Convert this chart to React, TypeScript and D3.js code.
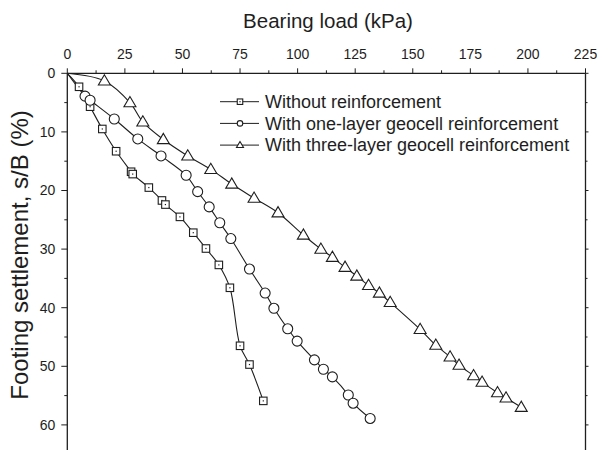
import React from 'react';
import * as d3 from 'd3';

// bearing load (kPa) vs settlement s/B (%)
const noReinfLoad = [0, 5.1, 9.9, 15.2, 21.2, 27.7, 28.4, 35.4, 41.1, 42.6, 48.9, 54.7, 60.2, 65.8, 70.6, 75.0, 79.1, 85.1];
const noReinfSettle = [0, 2.3, 5.7, 9.5, 13.3, 16.8, 17.2, 19.5, 21.7, 22.4, 24.5, 27.2, 29.9, 32.7, 36.6, 46.5, 49.7, 55.9];

const oneLayerLoad = [0, 7.7, 9.9, 20.4, 30.6, 40.7, 51.6, 56.6, 61.6, 66.2, 71.0, 79.1, 85.9, 89.7, 95.7, 99.8, 107.3, 111.2, 115.1, 122.0, 124.1, 131.5];
const oneLayerSettle = [0, 3.9, 4.6, 7.8, 11.2, 14.1, 17.4, 20.2, 22.8, 25.5, 28.2, 33.4, 37.5, 40.1, 43.6, 45.7, 48.9, 50.5, 51.8, 54.9, 56.3, 58.9];

const threeLayerLoad = [0, 16.1, 27.2, 32.8, 41.7, 52.3, 62.3, 71.4, 81.1, 91.5, 102.5, 110.1, 115.1, 120.6, 125.7, 130.8, 135.5, 140.2, 153.2, 160.0, 166.2, 170.1, 176.4, 180.1, 186.8, 190.5, 197.1];
const threeLayerSettle = [0, 1.3, 5.0, 8.3, 11.3, 14.1, 16.4, 18.9, 21.3, 23.8, 27.6, 30.0, 31.4, 33.1, 34.6, 36.2, 37.5, 39.1, 43.7, 46.4, 48.4, 49.8, 51.6, 52.7, 54.5, 55.4, 57.0];

const seriesNames = ['Without reinforcement', 'With one-layer geocell reinforcement', 'With three-layer geocell reinforcement'];
const xTicks = [0, 25, 50, 75, 100, 125, 150, 175, 200, 225];
const yTicks = [0, 10, 20, 30, 40, 50, 60];

const W = 597;
const H = 450;
const left = 67.3;
const right = 585.5;
const top = 73.3;
const ink = '#1e1e1e';
const font = 'Arial, "Liberation Sans", sans-serif';

const x = d3.scaleLinear().domain([0, 225]).range([left, right]);
const y = d3.scaleLinear().domain([0, 65]).range([top, top + 65 * 5.86]);

const line = d3.line<[number, number]>()
    .x(d => x(d[0]))
    .y(d => y(d[1]))
    .curve(d3.curveCatmullRom.alpha(0.5));

const zip = (a: number[], b: number[]): [number, number][] => a.map((v, i) => [v, b[i]]);

const Marker = ({ kind, cx, cy, s }: { kind: number; cx: number; cy: number; s: number }) => {
    if (kind === 0) {
        return (
            <g>
                <rect x={cx - s / 2} y={cy - s / 2} width={s} height={s} fill="#fff" stroke={ink} strokeWidth={1.1} />
                <rect x={cx - 0.6} y={cy - 0.6} width={1.2} height={1.2} fill={ink} />
            </g>
        );
    }
    if (kind === 1) {
        return <circle cx={cx} cy={cy} r={s / 2} fill="#fff" stroke={ink} strokeWidth={1.1} />;
    }
    const h = s * 0.85;
    const pts = [[cx, cy - h * 0.6], [cx - s / 2, cy + h * 0.4], [cx + s / 2, cy + h * 0.4]];
    return <polygon points={pts.map(p => p.join(',')).join(' ')} fill="#fff" stroke={ink} strokeWidth={1.1} />;
};

const App = () => {
    const series = [
        zip(noReinfLoad, noReinfSettle),
        zip(oneLayerLoad, oneLayerSettle),
        zip(threeLayerLoad, threeLayerSettle),
    ];
    const sizes = [7.5, 10, 12];
    const xMinor = d3.range(12.5, 225, 25);
    const yMinor = d3.range(5, 65, 10);

    return (
        <svg width={W} height={H} style={{ position: 'absolute', left: 0, top: 0 }} fontFamily={font}>
            <rect width={W} height={H} fill="#fff" />
            {/* axis frame */}
            <line x1={left} x2={right} y1={top} y2={top} stroke={ink} strokeWidth={1.3} />
            <line x1={left} x2={left} y1={top} y2={H} stroke={ink} strokeWidth={1.3} />
            <line x1={right} x2={right} y1={top} y2={H} stroke={ink} strokeWidth={1.3} />

            {/* top ticks */}
            {xTicks.map(t => (
                <g key={'xt' + t}>
                    <line x1={x(t)} x2={x(t)} y1={top} y2={top - 5} stroke={ink} />
                    <text x={x(t)} y={top - 14} textAnchor="middle" fontSize={14} fill={ink}>{t}</text>
                </g>
            ))}
            {xMinor.map(t => (
                <line key={'xm' + t} x1={x(t)} x2={x(t)} y1={top} y2={top - 3} stroke={ink} />
            ))}
            {/* left + right ticks */}
            {yTicks.map(t => (
                <g key={'yt' + t}>
                    <line x1={left} x2={left - 6} y1={y(t)} y2={y(t)} stroke={ink} />
                    <line x1={right} x2={right + 3} y1={y(t)} y2={y(t)} stroke={ink} />
                    <text x={left - 12} y={y(t)} dy="0.35em" textAnchor="end" fontSize={14} fill={ink}>{t}</text>
                </g>
            ))}
            {yMinor.map(t => (
                <g key={'ym' + t}>
                    <line x1={left} x2={left - 3} y1={y(t)} y2={y(t)} stroke={ink} />
                    <line x1={right} x2={right + 2} y1={y(t)} y2={y(t)} stroke={ink} />
                </g>
            ))}

            <text x={328} y={21} dy="0.35em" textAnchor="middle" fontSize={20.5} fill={ink}>Bearing load (kPa)</text>
            <text transform={`translate(20,255) rotate(-90)`} dy="0.35em" textAnchor="middle" fontSize={24} fill={ink}>
                Footing settlement, s/B (%)
            </text>

            {/* curves */}
            {series.map((s, i) => (
                <path key={'l' + i} d={line(s) || ''} fill="none" stroke={ink} strokeWidth={1.1} />
            ))}
            {series.map((s, i) => s.slice(1).map((p, j) => (
                <Marker key={'m' + i + '-' + j} kind={i} cx={x(p[0])} cy={y(p[1])} s={sizes[i]} />
            )))}

            {/* legend */}
            {seriesNames.map((n, i) => {
                const ly = 101.7 + i * 21.7;
                return (
                    <g key={'lg' + i}>
                        <line x1={220} x2={259} y1={ly} y2={ly} stroke={ink} />
                        <Marker kind={i} cx={240} cy={ly} s={i === 2 ? 7 : 5.5} />
                        <text x={265} y={ly} dy="0.35em" fontSize={18} fill={ink}>{n}</text>
                    </g>
                );
            })}
        </svg>
    );
};

export default App;
